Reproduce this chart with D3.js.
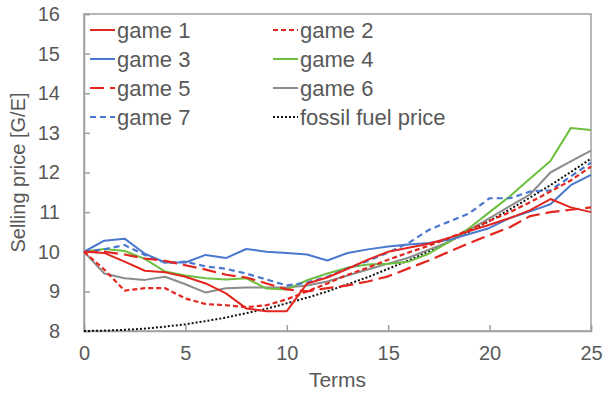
<!DOCTYPE html>
<html><head><meta charset="utf-8">
<script src="https://cdn.jsdelivr.net/npm/d3@7"></script>
<style>
html,body{margin:0;padding:0;background:#fff;}
svg{display:block;font-family:"Liberation Sans",Arial,sans-serif;}
</style></head>
<body><svg id="chart" width="609" height="394"></svg>
<script>
const terms = d3.range(0, 26);
const game1 = [10, 9.97, 9.75, 9.52, 9.48, 9.37, 9.2, 8.95, 8.57, 8.5, 8.5, 9.2, 9.35, 9.57, 9.8, 10.0, 10.1, 10.2, 10.35, 10.52, 10.68, 10.85, 11.05, 11.33, 11.12, 11.0];
const game2 = [10, 9.55, 9.02, 9.08, 9.08, 8.82, 8.68, 8.65, 8.6, 8.65, 8.8, 9.0, 9.2, 9.42, 9.6, 9.8, 9.98, 10.15, 10.35, 10.55, 10.78, 11.0, 11.25, 11.52, 11.8, 12.15];
const game3 = [10, 10.28, 10.33, 9.95, 9.73, 9.73, 9.92, 9.84, 10.07, 10.0, 9.97, 9.93, 9.78, 9.97, 10.06, 10.13, 10.18, 10.22, 10.3, 10.45, 10.6, 10.85, 11.02, 11.2, 11.68, 11.94];
const game4 = [10, 10.07, 10.02, 9.82, 9.5, 9.4, 9.33, 9.3, 9.33, 9.07, 9.05, 9.28, 9.45, 9.6, 9.68, 9.7, 9.75, 9.95, 10.25, 10.6, 11.0, 11.4, 11.85, 12.29, 13.12, 13.07];
const game5 = [10, 10.0, 9.93, 9.83, 9.77, 9.66, 9.55, 9.42, 9.35, 9.2, 9.05, 9.0, 9.08, 9.15, 9.25, 9.38, 9.58, 9.78, 10.0, 10.22, 10.42, 10.62, 10.9, 11.0, 11.06, 11.12];
const game6 = [10, 9.45, 9.33, 9.29, 9.37, 9.18, 8.97, 9.08, 9.1, 9.1, 9.1, 9.15, 9.25, 9.4, 9.55, 9.7, 9.85, 10.05, 10.25, 10.55, 10.85, 11.15, 11.45, 12.0, 12.28, 12.55];
const game7 = [10, 10.06, 10.17, 9.92, 9.72, 9.75, 9.63, 9.57, 9.45, 9.3, 9.15, 9.22, 9.37, 9.58, 9.77, 9.98, 10.22, 10.55, 10.76, 10.97, 11.35, 11.35, 11.52, 11.55, 11.9, 12.25];
const fossil = [8.00, 8.01, 8.03, 8.06, 8.11, 8.17, 8.25, 8.34, 8.45, 8.56, 8.70, 8.84, 9.00, 9.18, 9.36, 9.57, 9.78, 10.01, 10.25, 10.51, 10.78, 11.07, 11.37, 11.68, 12.01, 12.35];
const seriesNames = ["game 1","game 2","game 3","game 4","game 5","game 6","game 7","fossil fuel price"];
const xTicks = [0, 5, 10, 15, 20, 25];
const yTicks = [8, 9, 10, 11, 12, 13, 14, 15, 16];

const styles = {
  "game 1": {c:"#e3261f", d:null, w:2},
  "game 2": {c:"#e3261f", d:"5,3", w:2.2},
  "game 3": {c:"#4a78cf", d:null, w:2},
  "game 4": {c:"#6cbf3f", d:null, w:2},
  "game 5": {c:"#e3261f", d:"14,6", w:2.2},
  "game 6": {c:"#8c8c8c", d:null, w:2},
  "game 7": {c:"#4a78cf", d:"6,4", w:2.2},
  "fossil fuel price": {c:"#111", d:"2,2", w:2}
};
const dataMap = {"game 1":game1,"game 2":game2,"game 3":game3,"game 4":game4,"game 5":game5,"game 6":game6,"game 7":game7,"fossil fuel price":fossil};

const svg = d3.select("#chart");
const L=84, R=591, T=14, B=331;
const x = d3.scaleLinear().domain([0,25]).range([L,R]);
const y = d3.scaleLinear().domain([8,16]).range([B,T]);
const txt = "#595959", axc = "#a0a0a0";

svg.append("rect").attr("x",L).attr("y",T).attr("width",R-L).attr("height",B-T)
  .attr("fill","none").attr("stroke",axc).attr("stroke-width",1.5);

const yAxis = svg.append("g").attr("transform",`translate(${L},0)`)
  .call(d3.axisLeft(y).tickValues(yTicks).tickSize(-6).tickPadding(24));
const xAxis = svg.append("g").attr("transform",`translate(0,${B})`)
  .call(d3.axisBottom(x).tickValues(xTicks).tickSize(-6).tickPadding(15));
[yAxis,xAxis].forEach(g=>{
  g.select(".domain").attr("stroke",axc).attr("stroke-width",1.5);
  g.selectAll(".tick line").attr("stroke",axc).attr("stroke-width",1.5);
  g.selectAll(".tick text").attr("fill",txt).attr("font-size",20).attr("font-family","Liberation Sans, Arial, sans-serif");
});

const line = d3.line().x((d,i)=>x(terms[i])).y(d=>y(d));
const order = ["fossil fuel price","game 6","game 4","game 7","game 3","game 5","game 2","game 1"];
order.forEach(n=>{
  const s = styles[n];
  svg.append("path").datum(dataMap[n]).attr("d",line).attr("fill","none")
    .attr("stroke",s.c).attr("stroke-width",s.w).attr("stroke-dasharray",s.d)
    .attr("stroke-linejoin","round");
});

const lg = svg.append("g");
seriesNames.forEach((n,i)=>{
  const col = i%2, row = Math.floor(i/2);
  const x0 = col===0 ? 90 : 273;
  const yy = 30 + row*29;
  const s = styles[n];
  lg.append("line").attr("x1",x0).attr("x2",x0+25).attr("y1",yy).attr("y2",yy)
    .attr("stroke",s.c).attr("stroke-width",2).attr("stroke-dasharray",s.d);
  lg.append("text").attr("x",x0+27).attr("y",yy).attr("dy","0.35em")
    .attr("fill",txt).attr("font-size",22).text(n);
});

svg.append("text").attr("x",(L+R)/2).attr("y",387).attr("text-anchor","middle")
  .attr("fill",txt).attr("font-size",21).text("Terms");
svg.append("text").attr("transform",`translate(25,${(T+B)/2}) rotate(-90)`)
  .attr("text-anchor","middle").attr("fill",txt).attr("font-size",20).text("Selling price [G/E]");
</script></body></html>
